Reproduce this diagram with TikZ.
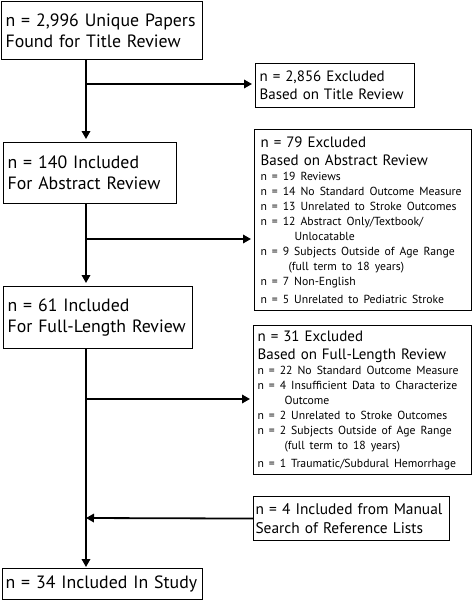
\documentclass[tikz,border=0pt]{standalone}
\usepackage{fontspec}
\setmainfont{PT Sans}
\usetikzlibrary{arrows.meta}
\setlength{\parindent}{0pt}
\hyphenpenalty=10000
\exhyphenpenalty=10000
\newcommand{\bigtext}{\fontsize{17.8}{21}\selectfont}
\newcommand{\midtext}{\fontsize{15}{18}\selectfont}
\newcommand{\smalltext}{\fontsize{11.7}{15}\selectfont}
\tikzset{
  box/.style={draw, line width=1.1pt, anchor=north west, align=left, inner xsep=4pt, inner ysep=2pt},
  flow/.style={line width=1.8pt, -{Triangle[length=8pt,width=8.5pt]}, shorten >=3pt},
}

\begin{document}
\begin{tikzpicture}[x=1pt,y=-1pt]
			%%%%% START %%%%%
			\useasboundingbox (0,0) rectangle (472,600);
			
			\node[box, font=\bigtext, text width=193pt, minimum height=58pt] (found) at (1,1) {n = 2,996 Unique Papers\par Found for Title Review};
			\node[box, font=\midtext, text width=151pt, minimum height=44pt] (titleout) at (255,63) {n = 2,856 Excluded\par Based on Title Review};
			
			\node[box, font=\bigtext, text width=165pt, minimum height=61pt] (abstract) at (3,142) {n = 140 Included\par For Abstract Review};
			\node[box, font=\midtext, inner xsep=6pt, text width=205pt, minimum height=181pt] (abstractout) at (254,129) {n = 79 Excluded\par Based on Abstract Review\par
				\smalltext n = 19 Reviews\par
				n = 14 No Standard Outcome Measure\par
				n = 13 Unrelated to Stroke Outcomes\par
				n = 12 Abstract Only/Textbook/\par
				\hspace*{34pt}Unlocatable\par
				n = 9 Subjects Outside of Age Range\par
				\hspace*{28pt}(full term to 18 years)\par
				n = 7 Non-English\par
				n = 5 Unrelated to Pediatric Stroke};
			
			\node[box, font=\bigtext, text width=181pt, minimum height=62pt] (fulllength) at (3,286) {n = 61 Included\par For Full-Length Review};
			\node[box, font=\midtext, text width=210pt, minimum height=149pt] (fullout) at (253,325) {n = 31 Excluded\par Based on Full-Length Review\par
				\smalltext n = 22 No Standard Outcome Measure\par
				n = 4 Insufficient Data to Characterize\par
				\hspace*{27pt}Outcome\par
				n = 2 Unrelated to Stroke Outcomes\par
				n = 2 Subjects Outside of Age Range\par
				\hspace*{27pt}(full term to 18 years)\par
				n = 1 Traumatic/Subdural Hemorrhage};
			
			\node[box, font=\fontsize{15.4}{19}\selectfont, inner xsep=2pt, text width=192pt, minimum height=44pt] (manual) at (253,496) {n = 4 Included from Manual\par Search of Reference Lists};
			\node[box, font=\bigtext, inner xsep=3pt, text width=194pt, minimum height=31pt] (study) at (2,568) {n = 34 Included In Study};
			
			\coordinate (split1) at (86,84);
			\coordinate (split2) at (86,239);
			\coordinate (split3) at (86,399);
			\coordinate (merge) at (86,518);
			
			\draw[flow] (found.south -| split1) -- (abstract.north -| split1);
			\draw[flow] (split1) -- (titleout.west |- split1);
			\draw[flow] (abstract.south -| split2) -- (fulllength.north -| split2);
			\draw[flow] (split2) -- (abstractout.west |- split2);
			\draw[flow, shorten >=1pt] (fulllength.south -| split3) -- (study.north -| split3);
			\draw[flow] (split3) -- (fullout.west |- split3);
			\draw[flow, shorten >=0pt] (manual.west) -- (merge);
			%%%%% END %%%%%
\end{tikzpicture}
\end{document}
